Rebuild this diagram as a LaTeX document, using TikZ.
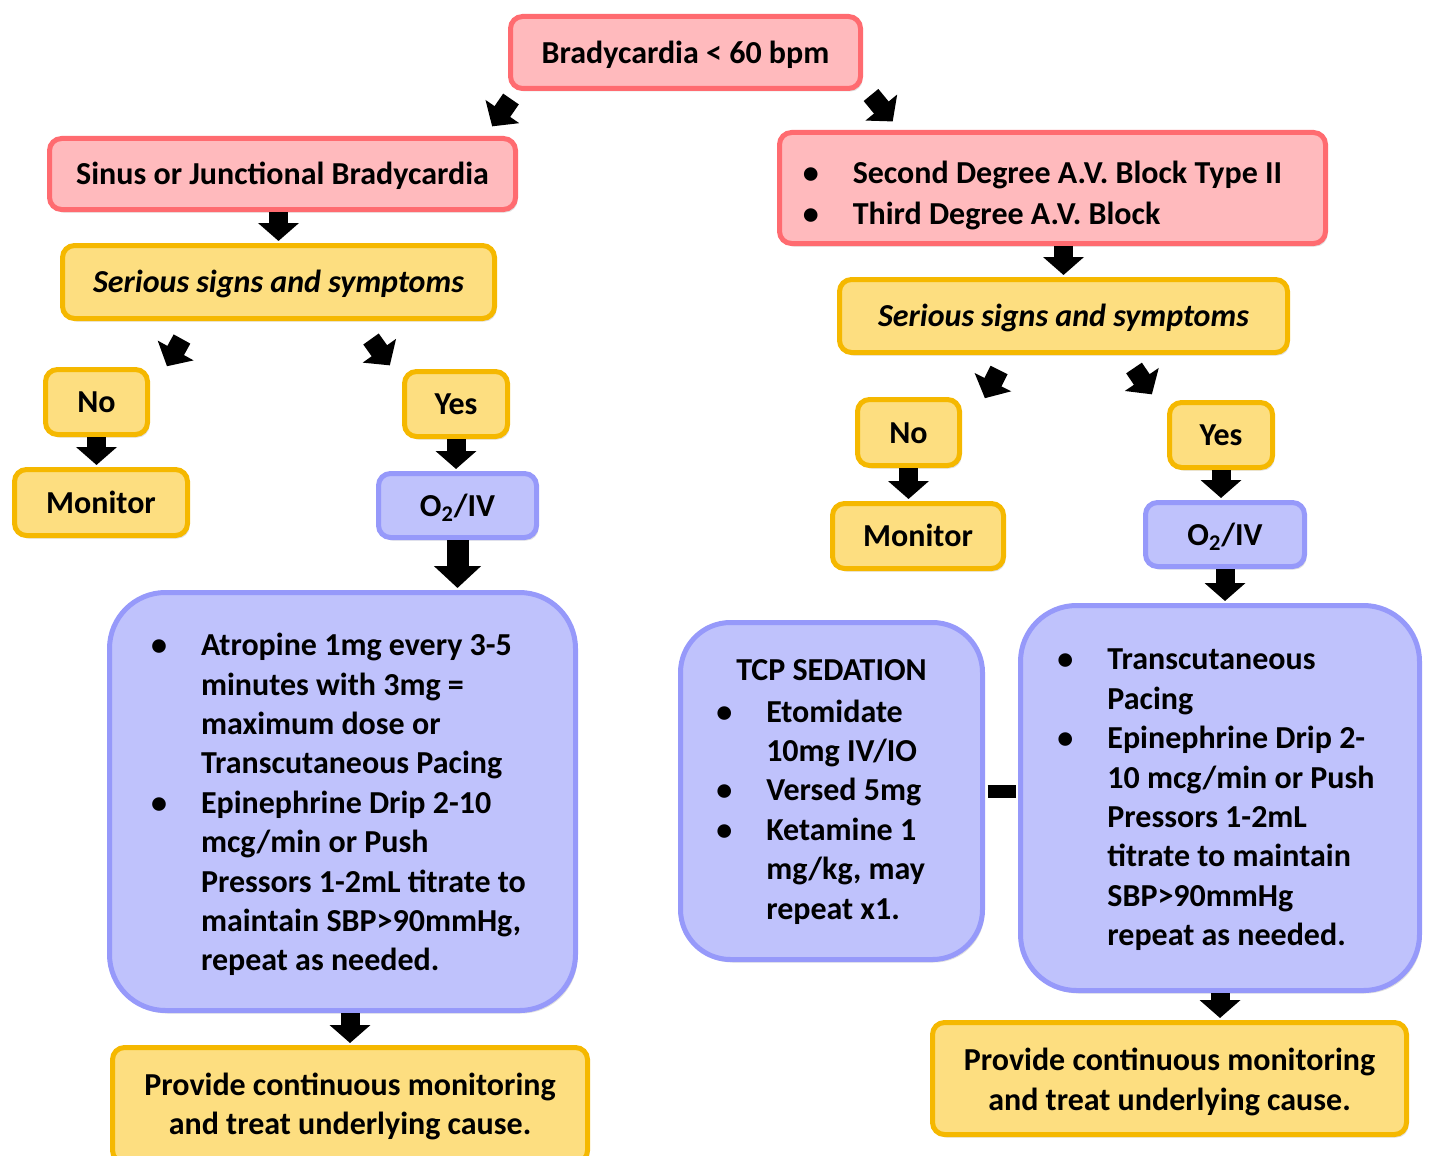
\documentclass[tikz,border=0pt]{standalone}
\usepackage{fontspec}
\setmainfont{Carlito}
\usetikzlibrary{arrows.meta,shadows}

\definecolor{redfill}{RGB}{255,186,189}
\definecolor{redline}{RGB}{255,107,112}
\definecolor{yelfill}{RGB}{253,222,128}
\definecolor{yelline}{RGB}{245,184,0}
\definecolor{bluefill}{RGB}{191,194,252}
\definecolor{blueline}{RGB}{150,153,250}

\newcommand{\bul}{\makebox[21pt][l]{\kern-4pt\textbullet}}
\newcommand{\cont}{\hspace*{21pt}}
% lines of a box, lowered a little
\newcommand{\lines}[3]{\raisebox{-#1}[\height][\depth]{\begin{tabular}{@{}#2@{}}#3\end{tabular}}}

\begin{document}
\begin{tikzpicture}[x=0.5pt, y=-0.5pt,
  every node/.style={font=\fontsize{16}{19.7}\selectfont\bfseries},
  box/.style={draw, line width=2.5pt, rounded corners=6pt,
    drop shadow={opacity=0.25, shadow xshift=1pt, shadow yshift=-1.5pt}},
  oneline/.style={text height=15.2pt, text depth=4.3pt},
  redbox/.style={box, draw=redline, fill=redfill},
  yelbox/.style={box, draw=yelline, fill=yelfill},
  bluebox/.style={box, draw=blueline, fill=bluefill},
  barrow/.style={line width=9.5pt, -{Triangle[width=20pt,length=9pt]}, shorten >=1pt},
  bigarrow/.style={line width=11pt, -{Triangle[width=23pt,length=11pt]}, shorten >=1pt}]
  \useasboundingbox (0,0) rectangle (1429,1156);

  % Top
  \node[redbox, oneline, minimum width=175pt, minimum height=36pt] (brady) at (685.5,52.5) {Bradycardia < 60 bpm};

  % Left branch
  \node[redbox, oneline, minimum width=233pt, minimum height=35.5pt] (sinus) at (282.5,174) {Sinus or Junctional Bradycardia};
  \node[yelbox, oneline, minimum width=216pt, minimum height=36.5pt] (serl) at (278.5,282) {\itshape Serious signs and symptoms};
  \node[yelbox, oneline, minimum width=51pt, minimum height=32.5pt] (nol) at (96.5,402) {No};
  \node[yelbox, oneline, minimum width=86.5pt, minimum height=33pt] (monl) at (101,502.5) {Monitor};
  \node[yelbox, oneline, minimum width=51.5pt, minimum height=32.5pt] (yesl) at (456,404) {Yes};
  \node[bluebox, oneline, minimum width=79pt, minimum height=32pt] (o2l) at (457.5,505.5) {O\textsubscript{2}/IV};
  \node[bluebox, rounded corners=28pt, minimum width=233pt, minimum height=209pt] (txl) at (342.5,801.5)
    {\lines{2pt}{l}{\bul Atropine 1mg every 3-5\\
     \cont minutes with 3mg =\\
     \cont maximum dose or\\
     \cont Transcutaneous Pacing\\
     \bul Epinephrine Drip 2-10\\
     \cont mcg/min or Push\\
     \cont Pressors 1-2mL titrate to\\
     \cont maintain SBP>90mmHg,\\
     \cont repeat as needed.}};
  \node[yelbox, minimum width=237.5pt, minimum height=57.5pt] (endl) at (350,1105)
    {\lines{1pt}{c}{Provide continuous monitoring\\and treat underlying cause.}};

  % Right branch
  \node[redbox, minimum width=273pt, minimum height=55.5pt] (avb) at (1052.5,188)
    {\lines{4pt}{l}{\bul Second Degree A.V. Block Type II\hspace*{6pt}\\[0.8pt]
     \bul Third Degree A.V. Block}};
  \node[yelbox, oneline, minimum width=224pt, minimum height=36.5pt] (serr) at (1063.5,316) {\itshape Serious signs and symptoms};
  \node[yelbox, oneline, minimum width=51pt, minimum height=33pt] (nor) at (908.5,432.5) {No};
  \node[yelbox, oneline, minimum width=85.5pt, minimum height=32.5pt] (monr) at (918,536) {Monitor};
  \node[yelbox, oneline, minimum width=51.5pt, minimum height=32.5pt] (yesr) at (1221,435) {Yes};
  \node[bluebox, oneline, minimum width=79.5pt, minimum height=32pt] (o2r) at (1225,534.5) {O\textsubscript{2}/IV};
  \node[bluebox, rounded corners=25pt, minimum width=151pt, minimum height=168.5pt] (tcp) at (831.5,791)
    {\lines{0.5pt}{l}{\hspace*{6pt}TCP SEDATION\hspace*{6pt}\\[1pt]
     \bul Etomidate\\
     \cont 10mg IV/IO\\
     \bul Versed 5mg\\
     \bul Ketamine 1\\
     \cont mg/kg, may\\
     \cont repeat x1.}};
  \node[bluebox, rounded corners=28pt, minimum width=199.5pt, minimum height=192.5pt] (txr) at (1220,798)
    {\lines{1pt}{l}{\bul Transcutaneous\\
     \cont Pacing\\
     \bul Epinephrine Drip 2-\\
     \cont 10 mcg/min or Push\\
     \cont Pressors 1-2mL\\
     \cont titrate to maintain\\
     \cont SBP>90mmHg\\
     \cont repeat as needed.}};
  \node[yelbox, minimum width=237pt, minimum height=56pt] (endr) at (1169.5,1078.5)
    {\lines{2pt}{c}{Provide continuous monitoring\\and treat underlying cause.}};

  % Diagonal arrows
  \coordinate (d1) at (511,99);   \coordinate (d1e) at (491,128);
  \coordinate (d2) at (871,95);   \coordinate (d2e) at (894,123);
  \coordinate (d3) at (182,339);  \coordinate (d3e) at (166,368);
  \coordinate (d4) at (371,339);  \coordinate (d4e) at (391,367);
  \coordinate (d5) at (999,370);  \coordinate (d5e) at (984,400);
  \coordinate (d6) at (1134,368); \coordinate (d6e) at (1153,396);
  \draw[barrow] (d1) -- (d1e);
  \draw[barrow] (d2) -- (d2e);
  \draw[barrow] (d3) -- (d3e);
  \draw[barrow] (d4) -- (d4e);
  \draw[barrow] (d5) -- (d5e);
  \draw[barrow] (d6) -- (d6e);

  % Straight arrows
  \draw[barrow, xshift=-2.5pt] (serl.north |- sinus.south) -- (serl.north);
  \draw[barrow, xshift=1pt] (nol.south) -- (nol.south |- monl.north);
  \draw[barrow, xshift=1pt] (yesl.south) -- (yesl.south |- o2l.north);
  \draw[bigarrow, xshift=2.5pt] (o2l.south) -- (o2l.south |- txl.north);
  \draw[barrow] (endl.north |- txl.south) -- (endl.north);
  \draw[barrow, xshift=-1.5pt] (serr.north |- avb.south) -- (serr.north);
  \draw[barrow, xshift=2pt] (nor.south) -- (nor.south |- monr.north);
  \draw[barrow, xshift=1.5pt] (yesr.south) -- (yesr.south |- o2r.north);
  \draw[barrow, xshift=6.5pt] (o2r.south) -- (o2r.south |- txr.north);
  \draw[barrow, xshift=-2.5pt] (txr.south) -- (txr.south |- endr.north);

  % Link
  \draw[line width=6.5pt, shorten <=1.25pt, shorten >=1.25pt] (tcp.east) -- (tcp.east -| txr.west);
\end{tikzpicture}
\end{document}
